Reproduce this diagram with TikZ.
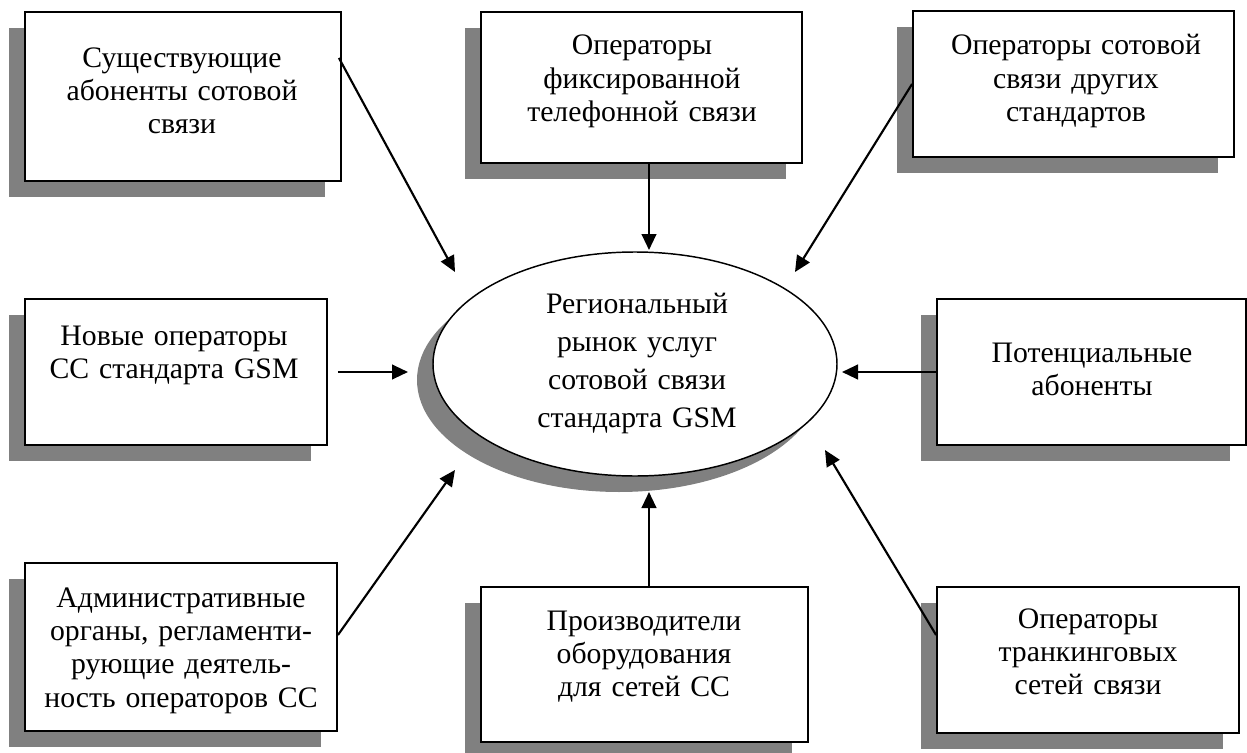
\documentclass[tikz,border=0pt]{standalone}
\usepackage{fontspec}
\setmainfont{Liberation Serif}
\usetikzlibrary{arrows.meta,shadows,shapes.geometric}
\begin{document}
\begin{tikzpicture}[x=0.75pt,y=-0.75pt,
  shd/.style={drop shadow={shadow xshift=-12pt, shadow yshift=-12pt, fill=black!50, opacity=1}},
  boxnode/.style={rectangle, draw, line width=1.4pt, fill=white, inner sep=0pt, shd},
  oval/.style={ellipse, draw, line width=1.1pt, fill=white, inner sep=0pt, shd},
  txt/.style={text width=260pt, align=center, inner sep=0pt, anchor=base, font=\fontsize{22.3}{25}\selectfont},
  ctxt/.style={txt, font=\fontsize{22.3}{28.7}\selectfont},
  arr/.style={line width=1.6pt, -{Triangle[length=12pt,width=11pt]}}]
\useasboundingbox (0,0) rectangle (1247,753);
% boxes
\node[boxnode, minimum width=237pt, minimum height=126.75pt] (b1) at (183,96.5) {};
\node[boxnode, minimum width=240.75pt, minimum height=113.25pt] (b2) at (641.5,87.5) {};
\node[boxnode, minimum width=240.75pt, minimum height=109.5pt] (b3) at (1073.5,84) {};
\node[boxnode, minimum width=226.5pt, minimum height=109.5pt] (b4) at (176,372) {};
\node[boxnode, minimum width=231.75pt, minimum height=109.5pt] (b5) at (1091.5,372) {};
\node[boxnode, minimum width=234pt, minimum height=126pt] (b6) at (181,647) {};
\node[boxnode, minimum width=245.25pt, minimum height=116.25pt] (b7) at (644.5,664.5) {};
\node[boxnode, minimum width=226.5pt, minimum height=109.5pt] (b8) at (1088,660) {};
\node[oval, minimum width=303pt, minimum height=168pt] (c) at (635,364) {};
% texts
\node[txt] (l1) at (182,67) {Существующие\\абоненты сотовой\\связи};
\node[txt] (l2) at (642,55) {Операторы\\фиксированной\\телефонной связи};
\node[txt] (l3) at (1076,55) {Операторы сотовой\\связи других\\стандартов};
\node[txt] (l4) at (174,345) {Новые операторы\\СС стандарта GSM};
\node[txt] (l5) at (1092,362) {Потенциальные\\абоненты};
\node[txt] (l6) at (181,607) {Административные\\органы, регламенти-\\рующие деятель-\\ность операторов СС};
\node[txt] (l7) at (644,630) {Производители\\оборудования\\для сетей СС};
\node[txt] (l8) at (1088,628) {Операторы\\транкинговых\\сетей связи};
\node[ctxt] (lc) at (637,313) {Региональный\\рынок услуг\\сотовой связи\\стандарта GSM};
% arrow tips
\coordinate (t1) at (455,272);
\coordinate (t2) at (649,250);
\coordinate (t3) at (795,272);
\coordinate (t4) at (408,372);
\coordinate (t5) at (842,372);
\coordinate (t6) at (455,470);
\coordinate (t7) at (649,492);
\coordinate (t8) at (825,450);
% arrows
\draw[arr] ([shift={(-3,-38.5)}]b1.east) -- (t1);
\draw[arr] ([shift={(7.5,0)}]b2.south) -- (t2);
\draw[arr] (b3.west) -- (t3);
\draw[arr] ([shift={(10,0)}]b4.east) -- (t4);
\draw[arr] (b5.west) -- (t5);
\draw[arr] ([shift={(0,-12)}]b6.east) -- (t6);
\draw[arr] ([shift={(4.5,0)}]b7.north) -- (t7);
\draw[arr] ([shift={(0,-25)}]b8.west) -- (t8);
\end{tikzpicture}
\end{document}
